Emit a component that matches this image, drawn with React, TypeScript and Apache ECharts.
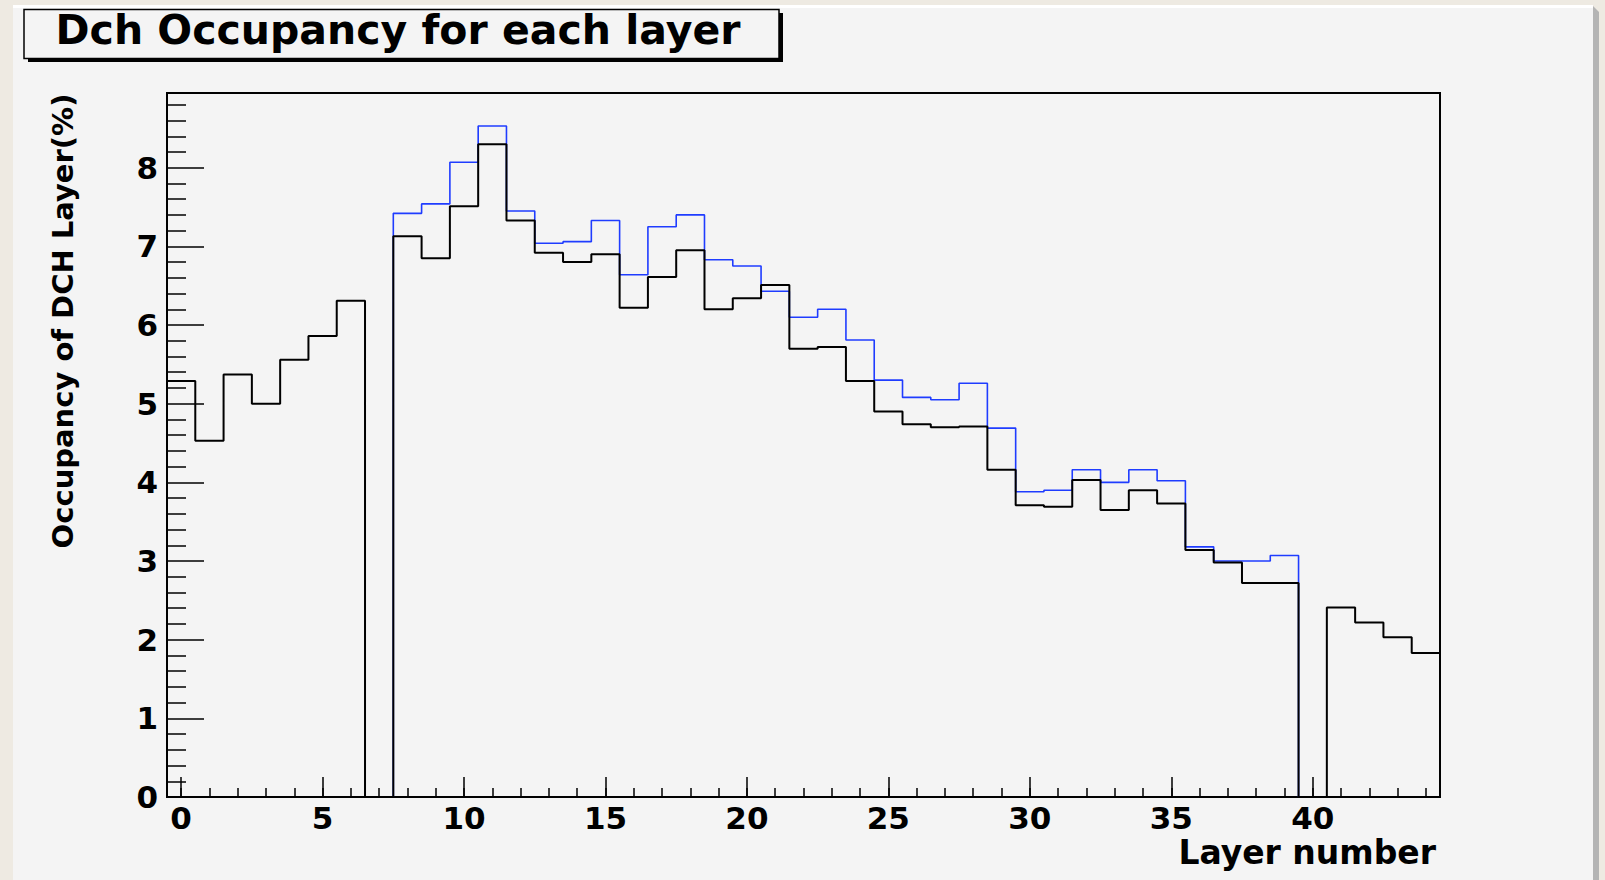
import React, { useEffect, useRef } from "react";
import * as echarts from "echarts";

// Bin contents (bin centres are the layer numbers 0..44)
const layerBlack: number[] = [
  5.29, 4.53, 5.37, 5.0, 5.56, 5.86, 6.31, 0, 7.13, 6.85,
  7.51, 8.3, 7.33, 6.92, 6.8, 6.9, 6.22, 6.61, 6.95, 6.2,
  6.34, 6.51, 5.7, 5.72, 5.29, 4.9, 4.74, 4.7, 4.71, 4.16,
  3.71, 3.69, 4.03, 3.65, 3.9, 3.73, 3.14, 2.98, 2.72, 2.72,
  0, 2.41, 2.22, 2.03, 1.83,
];
// Blue histogram, bins 8..39
const blueFirstLayer = 8;
const layerBlue: number[] = [
  7.42, 7.54, 8.07, 8.53, 7.45, 7.04, 7.06, 7.33, 6.64, 7.25,
  7.4, 6.83, 6.75, 6.43, 6.1, 6.2, 5.81, 5.3, 5.08, 5.05,
  5.26, 4.69, 3.88, 3.9, 4.16, 4.0, 4.16, 4.02, 3.18, 3.0,
  3.0, 3.07,
];
const xMajorTicks: number[] = [0, 5, 10, 15, 20, 25, 30, 35, 40];
const xMinorTicks: number[] = [
  0, 1, 2, 3, 4, 5, 6, 7, 8, 9, 10, 11, 12, 13, 14, 15, 16, 17, 18, 19, 20, 21,
  22, 23, 24, 25, 26, 27, 28, 29, 30, 31, 32, 33, 34, 35, 36, 37, 38, 39, 40,
  41, 42, 43, 44,
];
const yMajorTicks: number[] = [0, 1, 2, 3, 4, 5, 6, 7, 8];
const yMinorTicks: number[] = [
  0.2, 0.4, 0.6, 0.8, 1.2, 1.4, 1.6, 1.8, 2.2, 2.4, 2.6, 2.8, 3.2, 3.4, 3.6,
  3.8, 4.2, 4.4, 4.6, 4.8, 5.2, 5.4, 5.6, 5.8, 6.2, 6.4, 6.6, 6.8, 7.2, 7.4,
  7.6, 7.8, 8.2, 8.4, 8.6, 8.8,
];
const X_MIN = -0.5;
const X_MAX = 44.5;
const Y_MAX = 8.95;

const TITLE = "Dch Occupancy for each layer";
const X_TITLE = "Layer number";
const Y_TITLE = "Occupancy of DCH Layer(%)";

function histPoints(values: number[], firstBin: number): number[][] {
  const pts: number[][] = [];
  const lo = firstBin - 0.5;
  pts.push([lo, 0]);
  values.forEach((v, i) => {
    const c = firstBin + i;
    pts.push([c - 0.5, v]);
    pts.push([c + 0.5, v]);
  });
  pts.push([firstBin + values.length - 0.5, 0]);
  return pts;
}

const FONT = "DejaVu Sans";

export default function App() {
  const ref = useRef<HTMLDivElement>(null);
  useEffect(() => {
    if (!ref.current) return;
    const chart = echarts.init(ref.current, undefined, { renderer: "svg" });
    const labelStyle = {
      color: "#000",
      fontFamily: FONT,
      fontWeight: "bold" as const,
      fontSize: 31,
    };
    chart.setOption({
      animation: false,
      backgroundColor: "transparent",
      graphic: [
        // canvas panel shadow
        {
          type: "polygon",
          z: -10,
          shape: {
            points: [
              [1593, 6],
              [1599, 12],
              [1599, 880],
              [1593, 880],
            ],
          },
          style: { fill: "#b4b4b4" },
        },
        {
          type: "rect",
          z: -10,
          shape: { x: 13, y: 6, width: 1580, height: 880 },
          style: { fill: "#f4f4f4" },
        },
        {
          type: "rect",
          z: -9,
          shape: { x: 13, y: 5, width: 1580, height: 3 },
          style: { fill: "#ffffff" },
        },
        // title box
        {
          type: "rect",
          z: 10,
          shape: { x: 28, y: 13, width: 755, height: 49 },
          style: { fill: "#000" },
        },
        {
          type: "rect",
          z: 11,
          shape: { x: 24, y: 9.5, width: 755, height: 49 },
          style: { fill: "#f4f4f4", stroke: "#000", lineWidth: 1.5 },
        },
        {
          type: "text",
          z: 12,
          x: 398,
          y: 30,
          style: {
            text: TITLE,
            fontFamily: FONT,
            fontWeight: "bold",
            fontSize: 41,
            fill: "#000",
            align: "center",
            verticalAlign: "middle",
          },
        },
        {
          type: "text",
          z: 12,
          x: 1436,
          y: 852,
          style: {
            text: X_TITLE,
            fontFamily: FONT,
            fontWeight: "bold",
            fontSize: 33,
            lineHeight: 28,
            fill: "#000",
            align: "right",
            verticalAlign: "middle",
          },
        },
        {
          type: "text",
          z: 12,
          x: 63,
          y: 321,
          rotation: Math.PI / 2,
          style: {
            text: Y_TITLE,
            fontFamily: FONT,
            fontWeight: "bold",
            fontSize: 29,
            fill: "#000",
            align: "center",
            verticalAlign: "middle",
          },
        },
      ],
      grid: {
        left: 167,
        right: 165,
        top: 93,
        bottom: 83,
        show: true,
        borderColor: "#000",
        borderWidth: 2,
        backgroundColor: "transparent",
      },
      xAxis: [
        {
          type: "value",
          min: X_MIN,
          max: X_MAX,
          position: "bottom",
          axisLine: { show: true, onZero: false, lineStyle: { color: "#000", width: 2 } },
          axisTick: {
            show: true,
            inside: true,
            length: 20,
            customValues: xMajorTicks,
            lineStyle: { color: "#000", width: 1.5 },
          },
          axisLabel: { ...labelStyle, margin: 8, lineHeight: 26, customValues: xMajorTicks },
          splitLine: { show: false },
        },
        {
          type: "value",
          min: X_MIN,
          max: X_MAX,
          position: "bottom",
          axisLine: { show: false, onZero: false },
          axisTick: {
            show: true,
            inside: true,
            length: 9,
            customValues: xMinorTicks,
            lineStyle: { color: "#000", width: 1.5 },
          },
          axisLabel: { show: false },
          splitLine: { show: false },
        },
      ],
      yAxis: [
        {
          type: "value",
          min: 0,
          max: Y_MAX,
          position: "left",
          axisLine: { show: true, onZero: false, lineStyle: { color: "#000", width: 2 } },
          axisTick: {
            show: true,
            inside: true,
            length: 37,
            customValues: yMajorTicks,
            lineStyle: { color: "#000", width: 1.5 },
          },
          axisLabel: { ...labelStyle, margin: 9, customValues: yMajorTicks },
          splitLine: { show: false },
        },
        {
          type: "value",
          min: 0,
          max: Y_MAX,
          position: "left",
          axisLine: { show: false, onZero: false },
          axisTick: {
            show: true,
            inside: true,
            length: 19,
            customValues: yMinorTicks,
            lineStyle: { color: "#000", width: 1.5 },
          },
          axisLabel: { show: false },
          splitLine: { show: false },
        },
      ],
      series: [
        {
          type: "line",
          xAxisIndex: 0,
          yAxisIndex: 0,
          data: histPoints(layerBlue, blueFirstLayer),
          symbol: "none",
          lineStyle: { color: "#1f3cff", width: 1.6 },
          z: 3,
        },
        {
          type: "line",
          xAxisIndex: 0,
          yAxisIndex: 0,
          data: histPoints(layerBlack, 0),
          symbol: "none",
          lineStyle: { color: "#000", width: 2 },
          z: 4,
        },
      ],
    });
    return () => chart.dispose();
  }, []);
  return (
    <div
      style={{
        position: "fixed",
        left: 0,
        top: 0,
        width: 1605,
        height: 880,
        background: "#eeeae2",
      }}
    >
      <div ref={ref} style={{ width: 1605, height: 880 }} />
    </div>
  );
}
